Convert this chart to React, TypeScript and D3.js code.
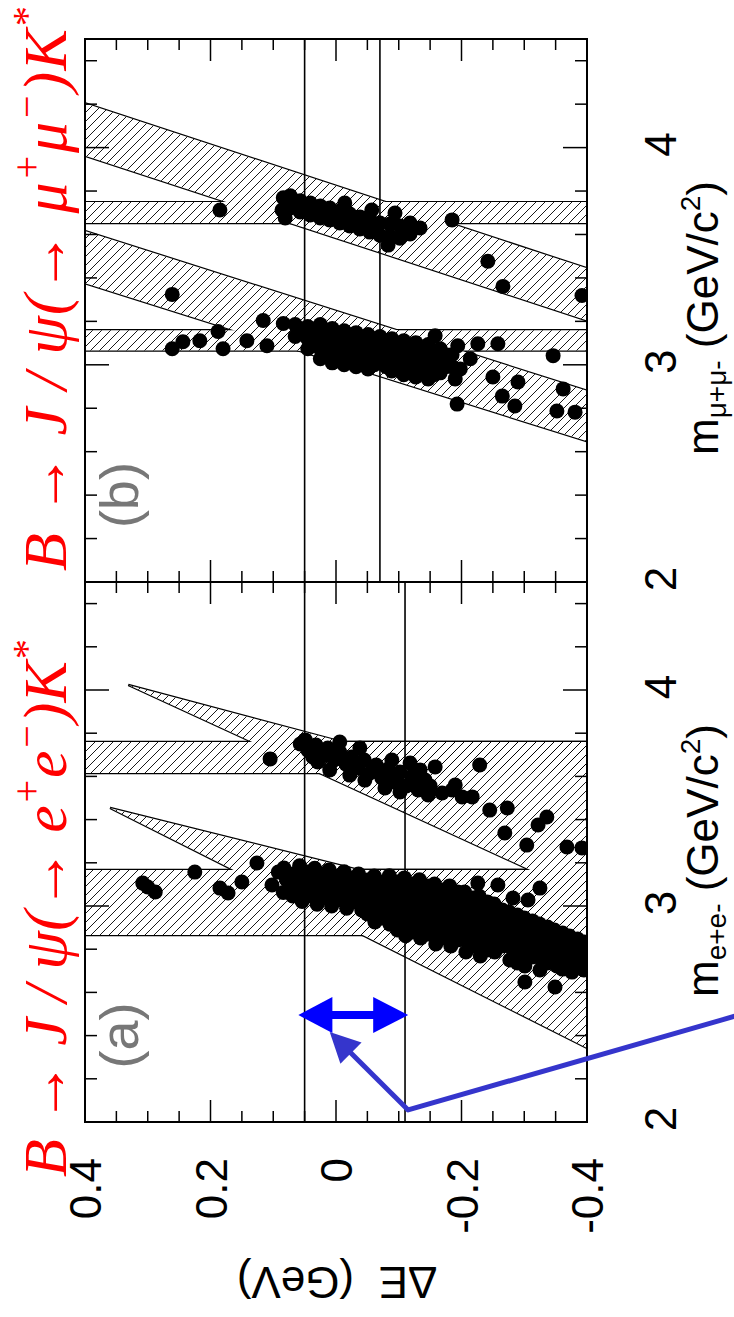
import React from 'react';
import * as d3 from 'd3';

// ---------------- data ----------------
const deDomain = [0.4, -0.4];
const massDomain = [2, 4.5];
const deMajorTicks = [0.4, 0.2, 0, -0.2, -0.4];
const deTickLabels = ['0.4', '0.2', '0', '-0.2', '-0.4'];
const massMajorTicks = [2, 3, 4];
const massTickLabels = ['2', '3', '4'];

// signal-box cut lines in ΔE (GeV)
const eeSignalCuts = [0.05, -0.11];
const mmSignalCuts = [0.05, -0.07];

// veto regions [ΔE, m]
const eeVetoBands = [[2.866, 3.167], [3.616, 3.759]];
const eeVetoWedges = [
  [[0.36, 3.454], [-0.036, 3.167], [-0.4, 3.167], [-0.4, 2.343]],
  [[0.331, 4.023], [-0.011, 3.759], [-0.4, 3.759], [-0.4, 3.046]],
];
const mmVetoBands = [[3.066, 3.159], [3.653, 3.749]];
const mmVetoDiagonals = [
  [[0.4, 3.616], [0.4, 3.375], [-0.4, 2.648], [-0.4, 2.88]],
  [[0.4, 4.204], [0.4, 3.963], [-0.4, 3.204], [-0.4, 3.444]],
];

// events [ΔE, m]
const eeJpsiEvents = [
  [0.308, 3.106], [0.288, 3.065], [0.3, 3.088], [0.225, 3.157], [0.185, 3.083], [0.172, 3.06],
  [0.15, 3.111], [0.126, 3.199], [0.102, 3.097], [0.092, 3.157], [-0.301, 2.648], [-0.349, 2.625],
  [-0.258, 3.097], [-0.226, 3.106], [-0.325, 3.083], [-0.306, 3.028], [-0.282, 3.037],
  [0.083, 3.176], [0.079, 3.122], [0.084, 3.063],
  [0.058, 3.186], [0.055, 3.128], [0.06, 3.074], [0.054, 3.021],
  [0.034, 3.175], [0.031, 3.121], [0.036, 3.066], [0.03, 3.008],
  [0.011, 3.167], [0.008, 3.112], [0.012, 3.055], [0.007, 3.0],
  [-0.013, 3.158], [-0.016, 3.101], [-0.012, 3.047], [-0.017, 2.99],
  [-0.036, 3.148], [-0.04, 3.093], [-0.037, 3.036], [-0.041, 2.982],
  [-0.061, 3.139], [-0.064, 3.083], [-0.06, 3.028], [-0.065, 2.972], [-0.062, 2.926],
  [-0.085, 3.14], [-0.088, 3.084], [-0.084, 3.027], [-0.089, 2.973], [-0.086, 2.916],
  [-0.109, 3.13], [-0.112, 3.075], [-0.108, 3.018], [-0.113, 2.963], [-0.11, 2.906], [-0.111, 2.862],
  [-0.133, 3.121], [-0.136, 3.065], [-0.132, 3.01], [-0.137, 2.954], [-0.134, 2.898], [-0.135, 2.852],
  [-0.157, 3.102], [-0.16, 3.047], [-0.156, 2.991], [-0.161, 2.935], [-0.158, 2.88], [-0.159, 2.824],
  [-0.181, 3.093], [-0.184, 3.037], [-0.18, 2.981], [-0.185, 2.926], [-0.182, 2.87], [-0.183, 2.815],
  [-0.205, 3.065], [-0.208, 3.009], [-0.204, 2.954], [-0.209, 2.898], [-0.206, 2.843], [-0.207, 2.787],
  [-0.228, 3.046], [-0.231, 2.991], [-0.227, 2.935], [-0.232, 2.88], [-0.229, 2.824], [-0.23, 2.769],
  [-0.252, 3.009], [-0.255, 2.954], [-0.251, 2.898], [-0.256, 2.843], [-0.253, 2.787],
  [-0.276, 2.972], [-0.279, 2.917], [-0.275, 2.861], [-0.28, 2.806], [-0.277, 2.75],
  [-0.3, 2.944], [-0.303, 2.889], [-0.299, 2.833], [-0.304, 2.778], [-0.301, 2.722],
  [-0.324, 2.917], [-0.327, 2.861], [-0.323, 2.806], [-0.328, 2.75], [-0.325, 2.704],
  [-0.348, 2.889], [-0.351, 2.833], [-0.347, 2.778], [-0.352, 2.722],
  [-0.372, 2.861], [-0.375, 2.806], [-0.371, 2.75], [-0.376, 2.694],
  [-0.396, 2.833], [-0.398, 2.769], [-0.395, 2.704],
  [0.069, 3.148], [0.069, 3.093], [0.069, 3.046],
  [0.045, 3.157], [0.045, 3.102], [0.045, 3.046],
  [0.022, 3.148], [0.022, 3.093], [0.022, 3.037],
  [-0.002, 3.139], [-0.002, 3.083], [-0.002, 3.028],
  [-0.026, 3.13], [-0.026, 3.074], [-0.026, 3.019],
  [-0.05, 3.12], [-0.05, 3.065], [-0.05, 3.009], [-0.05, 2.963],
  [-0.074, 3.111], [-0.074, 3.056], [-0.074, 3.0], [-0.074, 2.944],
  [-0.098, 3.111], [-0.098, 3.056], [-0.098, 3.0], [-0.098, 2.944], [-0.098, 2.889],
  [-0.122, 3.102], [-0.122, 3.046], [-0.122, 2.991], [-0.122, 2.935], [-0.122, 2.88],
  [-0.146, 3.093], [-0.146, 3.037], [-0.146, 2.981], [-0.146, 2.926], [-0.146, 2.87],
  [-0.17, 3.074], [-0.17, 3.019], [-0.17, 2.963], [-0.17, 2.907], [-0.17, 2.852],
  [-0.194, 3.065], [-0.194, 3.009], [-0.194, 2.954], [-0.194, 2.898], [-0.194, 2.843],
  [-0.218, 3.037], [-0.218, 2.981], [-0.218, 2.926], [-0.218, 2.87], [-0.218, 2.815],
  [-0.241, 3.019], [-0.241, 2.963], [-0.241, 2.907], [-0.241, 2.852], [-0.241, 2.796],
  [-0.265, 2.981], [-0.265, 2.926], [-0.265, 2.87], [-0.265, 2.815],
  [-0.289, 2.958], [-0.289, 2.903], [-0.289, 2.847], [-0.289, 2.792], [-0.289, 2.736],
  [-0.313, 2.931], [-0.313, 2.875], [-0.313, 2.819], [-0.313, 2.764],
  [-0.337, 2.903], [-0.337, 2.847], [-0.337, 2.792], [-0.337, 2.736],
  [-0.361, 2.875], [-0.361, 2.819], [-0.361, 2.764], [-0.361, 2.708],
  [-0.385, 2.847], [-0.385, 2.792], [-0.385, 2.736],
];
const eePsi2sEvents = [
  [0.105, 3.681], [0.057, 3.75], [0.049, 3.769], [0.041, 3.713], [0.032, 3.745], [0.022, 3.694],
  [0.013, 3.731], [0.003, 3.676], [-0.006, 3.713], [-0.016, 3.657], [-0.025, 3.69], [-0.035, 3.639],
  [-0.045, 3.676], [-0.054, 3.616], [-0.064, 3.653], [-0.073, 3.593], [-0.083, 3.634], [-0.092, 3.574],
  [-0.102, 3.62], [-0.112, 3.556], [-0.121, 3.602], [-0.131, 3.537], [-0.118, 3.662], [-0.134, 3.63],
  [-0.142, 3.583], [-0.158, 3.644], [-0.169, 3.523], [-0.185, 3.537], [-0.201, 3.505], [-0.217, 3.505],
  [-0.229, 3.653], [-0.245, 3.444], [-0.273, 3.454], [-0.322, 3.375], [-0.336, 3.412], [-0.269, 3.338],
  [-0.304, 3.282], [-0.368, 3.273], [-0.392, 3.269], [0.01, 3.63], [-0.022, 3.606], [-0.046, 3.583],
  [-0.078, 3.546], [-0.102, 3.528], [-0.038, 3.731], [-0.006, 3.759], [0.029, 3.667], [-0.089, 3.676],
  [-0.147, 3.514], [-0.19, 3.56],
  [0.045, 3.722], [0.018, 3.708], [-0.011, 3.685], [-0.03, 3.667], [-0.059, 3.639], [-0.078, 3.611],
  [-0.097, 3.597], [-0.126, 3.574], [-0.15, 3.556], [0.037, 3.69], [-0.065, 3.625],
];
const mmPsi2sEvents = [
  [0.185, 3.713], [0.084, 3.769], [0.086, 3.713], [0.261, 3.324], [-0.185, 3.667], [-0.242, 3.477],
  [-0.266, 3.361], [-0.392, 3.319],
  [0.073, 3.778], [0.073, 3.722], [0.057, 3.755], [0.057, 3.704], [0.041, 3.745], [0.041, 3.69],
  [0.025, 3.731], [0.025, 3.676], [0.01, 3.722], [0.01, 3.667], [-0.006, 3.708], [-0.006, 3.653],
  [-0.022, 3.694], [-0.022, 3.639], [-0.038, 3.681], [-0.038, 3.625], [-0.054, 3.667], [-0.054, 3.611],
  [-0.07, 3.653], [-0.07, 3.597], [-0.086, 3.648], [-0.086, 3.593], [-0.102, 3.639], [-0.102, 3.583],
  [-0.118, 3.653], [-0.118, 3.602], [-0.134, 3.63], [-0.094, 3.699], [-0.057, 3.713], [-0.014, 3.745],
  [0.081, 3.676], [-0.083, 3.551],
];
const mmJpsiEvents = [
  [0.261, 3.074], [0.244, 3.106], [0.217, 3.111], [0.188, 3.153], [0.18, 3.074], [0.142, 3.111],
  [0.116, 3.204], [0.11, 3.088], [0.084, 3.19], [-0.194, 3.088], [-0.226, 3.097], [-0.258, 3.097],
  [-0.193, 2.819], [-0.25, 2.944], [-0.29, 2.921], [-0.265, 2.856], [-0.285, 2.81], [-0.346, 3.042],
  [-0.362, 2.889], [-0.352, 2.787], [-0.381, 2.782], [-0.158, 3.134],
  [0.065, 3.185], [0.065, 3.13],
  [0.045, 3.176], [0.045, 3.12], [0.045, 3.074],
  [0.025, 3.185], [0.025, 3.13], [0.025, 3.074], [0.025, 3.028],
  [0.006, 3.167], [0.006, 3.111], [0.006, 3.056], [0.006, 3.009],
  [-0.013, 3.157], [-0.013, 3.102], [-0.013, 3.046], [-0.013, 3.0],
  [-0.032, 3.148], [-0.032, 3.093], [-0.032, 3.037], [-0.032, 2.991],
  [-0.051, 3.139], [-0.051, 3.083], [-0.051, 3.028], [-0.051, 2.981],
  [-0.07, 3.13], [-0.07, 3.074], [-0.07, 3.019],
  [-0.089, 3.12], [-0.089, 3.065], [-0.089, 3.009], [-0.089, 2.972],
  [-0.108, 3.111], [-0.108, 3.056], [-0.108, 3.0], [-0.108, 2.954],
  [-0.127, 3.102], [-0.127, 3.046], [-0.127, 2.991], [-0.127, 2.944],
  [-0.147, 3.093], [-0.147, 3.037], [-0.147, 2.981], [-0.147, 2.935],
  [-0.166, 3.074], [-0.166, 3.019], [-0.166, 2.963],
  [-0.185, 3.046], [-0.185, 2.991],
  [-0.198, 2.981], [-0.214, 3.028], [-0.19, 2.935],
  [0.056, 3.157], [0.035, 3.148], [0.035, 3.093],
  [0.016, 3.157], [0.016, 3.102], [0.016, 3.046],
  [-0.003, 3.139], [-0.003, 3.083], [-0.003, 3.028],
  [-0.022, 3.13], [-0.022, 3.074], [-0.022, 3.019],
  [-0.041, 3.12], [-0.041, 3.065], [-0.041, 3.009],
  [-0.061, 3.111], [-0.061, 3.056], [-0.061, 3.0],
  [-0.08, 3.102], [-0.08, 3.046], [-0.08, 2.991],
  [-0.099, 3.093], [-0.099, 3.037], [-0.099, 2.981],
  [-0.118, 3.083], [-0.118, 3.028], [-0.118, 2.972],
  [-0.137, 3.074], [-0.137, 3.019], [-0.137, 2.963],
  [-0.156, 3.056], [-0.156, 3.0], [-0.156, 2.954],
  [-0.175, 3.046], [-0.175, 2.991],
];

// annotation (panel a coordinates, [ΔE, m])
const windowArrow = [[0.06, 2.495], [-0.115, 2.495]];
const pointerArrow = [[-0.115, 2.056], [0.01, 2.417]];
const pointerLine = [[-0.115, 2.056], [-0.66, 2.51]];

// ---------------- layout ----------------
const W = 734;
const H = 1317;
const LEFT = 85;
const RIGHT = 587;
const FONT = "'Liberation Sans', Arial, Helvetica, sans-serif";
const SERIF = "'Liberation Serif', 'Times New Roman', serif";
const DOT_R = 7.5;

const x = d3.scaleLinear().domain(deDomain).range([LEFT, RIGHT]);

type Pt = number[];

function Panel(props: {
  id: string;
  top: number;
  bottom: number;
  regions: Pt[][];
  cuts: number[];
  events: Pt[][];
  label: string;
}) {
  const { id, top, bottom, regions, cuts, events, label } = props;
  const y = d3.scaleLinear().domain(massDomain).range([bottom, top]);
  const line = d3.line<Pt>().x((d) => x(d[0])).y((d) => y(d[1]));
  const paths = regions.map((r) => line(r) + 'Z');
  const deTicks = d3.range(-8, 9).map((i) => i * 0.05);
  const mTicks = d3.range(0, 13).map((i) => 2 + i * 0.2);
  const isMajorDE = (v: number) => Math.abs(v * 5 - Math.round(v * 5)) < 1e-6;
  const isMajorM = (v: number) => Math.abs(v - Math.round(v)) < 1e-6;
  return (
    <g>
      <defs>
        <clipPath id={'clip-' + id}>
          <rect x={LEFT} y={top} width={RIGHT - LEFT} height={bottom - top} />
        </clipPath>
      </defs>
      <g clipPath={`url(#clip-${id})`}>
        {paths.map((p, i) => (
          <path key={'s' + i} d={p} fill="none" stroke="#000" strokeWidth={2.4} />
        ))}
        {paths.map((p, i) => (
          <path key={'w' + i} d={p} fill="#fff" stroke="none" />
        ))}
        {paths.map((p, i) => (
          <path key={'h' + i} d={p} fill="url(#hatch)" stroke="none" />
        ))}
        {cuts.map((c, i) => (
          <line key={'c' + i} x1={x(c)} x2={x(c)} y1={top} y2={bottom} stroke="#000" strokeWidth={1.6} />
        ))}
        {events.flat().map((d, i) => (
          <circle key={'e' + i} cx={x(d[0])} cy={y(d[1])} r={DOT_R} fill="#000" />
        ))}
      </g>
      {deTicks.map((v, i) => {
        const len = isMajorDE(v) ? 22 : 11;
        return (
          <g key={'dt' + i} stroke="#000" strokeWidth={1.5}>
            <line x1={x(v)} x2={x(v)} y1={bottom} y2={bottom - len} />
            <line x1={x(v)} x2={x(v)} y1={top} y2={top + len} />
          </g>
        );
      })}
      {mTicks.map((v, i) => {
        const len = isMajorM(v) ? 24 : 12;
        return (
          <g key={'mt' + i} stroke="#000" strokeWidth={1.5}>
            <line x1={LEFT} x2={LEFT + len} y1={y(v)} y2={y(v)} />
            <line x1={RIGHT} x2={RIGHT - len} y1={y(v)} y2={y(v)} />
          </g>
        );
      })}
      <rect x={LEFT} y={top} width={RIGHT - LEFT} height={bottom - top} fill="none" stroke="#000" strokeWidth={2} />
      {massMajorTicks.map((v, i) => (
        <text
          key={'ml' + i}
          transform={`translate(676,${y(v) - 3}) rotate(-90)`}
          textAnchor="middle"
          fontFamily={FONT}
          fontSize={44}
          fill="#000"
        >
          {massTickLabels[i]}
        </text>
      ))}
      <text
        transform={`translate(138,${y(2.4)}) rotate(-90)`}
        textAnchor="middle"
        fontFamily={FONT}
        fontSize={54}
        fill="#777"
      >
        {label}
      </text>
    </g>
  );
}

function arrowHead(tip: number[], tail: number[], len: number, half: number) {
  const dx = tip[0] - tail[0];
  const dy = tip[1] - tail[1];
  const L = Math.hypot(dx, dy);
  const ux = dx / L;
  const uy = dy / L;
  const bx = tip[0] - ux * len;
  const by = tip[1] - uy * len;
  return `M${tip[0]},${tip[1]} L${bx - uy * half},${by + ux * half} L${bx + uy * half},${by - ux * half} Z`;
}

export default function App() {
  const yA = d3.scaleLinear().domain(massDomain).range([1122, 582]);
  const toA = (d: number[]) => [x(d[0]), yA(d[1])];

  const eeRegions: Pt[][] = [
    ...eeVetoBands.map((b) => [[0.4, b[0]], [0.4, b[1]], [-0.4, b[1]], [-0.4, b[0]]]),
    ...eeVetoWedges,
  ];
  const mmRegions: Pt[][] = [
    ...mmVetoBands.map((b) => [[0.4, b[0]], [0.4, b[1]], [-0.4, b[1]], [-0.4, b[0]]]),
    ...mmVetoDiagonals,
  ];

  const wa0 = toA(windowArrow[0]);
  const wa1 = toA(windowArrow[1]);
  const pa0 = toA(pointerArrow[0]);
  const pa1 = toA(pointerArrow[1]);
  const pl1 = toA(pointerLine[1]);
  const paDx = pa1[0] - pa0[0];
  const paDy = pa1[1] - pa0[1];
  const paL = Math.hypot(paDx, paDy);
  const paBase = [pa1[0] - (paDx / paL) * 26, pa1[1] - (paDy / paL) * 26];

  return (
    <svg
      width={W}
      height={H}
      viewBox={`0 0 ${W} ${H}`}
      style={{ position: 'absolute', left: 0, top: 0, background: '#fff' }}
    >
      <defs>
        <pattern id="hatch" patternUnits="userSpaceOnUse" width={9} height={9}>
          <path d="M-1,1 L1,-1 M0,9 L9,0 M8,10 L10,8" stroke="#000" strokeWidth={0.9} />
        </pattern>
      </defs>
      <rect x={0} y={0} width={W} height={H} fill="#fff" />

      <Panel id="a" top={582} bottom={1122} regions={eeRegions} cuts={eeSignalCuts}
        events={[eeJpsiEvents, eePsi2sEvents]} label="(a)" />
      <Panel id="b" top={39} bottom={582} regions={mmRegions} cuts={mmSignalCuts}
        events={[mmJpsiEvents, mmPsi2sEvents]} label="(b)" />

      {/* ΔE tick labels */}
      {deMajorTicks.map((v, i) => (
        <text key={'dl' + i} transform={`translate(${x(v) + 16},1158) rotate(-90)`}
          textAnchor="end" fontFamily={FONT} fontSize={44} fill="#000">
          {deTickLabels[i]}
        </text>
      ))}
      {/* ΔE axis title (upside down) */}
      <text transform="translate(337,1267) rotate(180)" textAnchor="middle" fontFamily={FONT}
        fontSize={44} fill="#000" style={{ whiteSpace: 'pre' }}>
        {'ΔE  (GeV)'}
      </text>

      {/* mass axis titles */}
      <text transform="translate(718,997) rotate(-90)" fontFamily={FONT} fontSize={44} fill="#000"
        style={{ whiteSpace: 'pre' }}>
        m<tspan dy={8} fontSize={28}>e+e-</tspan>
        <tspan dy={-8}>{' (GeV/c'}</tspan>
        <tspan dy={-18} fontSize={28}>2</tspan>
        <tspan dy={18}>)</tspan>
      </text>
      <text transform="translate(718,455) rotate(-90)" fontFamily={FONT} fontSize={44} fill="#000"
        style={{ whiteSpace: 'pre' }}>
        m<tspan dy={8} fontSize={28}>μ+μ-</tspan>
        <tspan dy={-8}>{' (GeV/c'}</tspan>
        <tspan dy={-18} fontSize={28}>2</tspan>
        <tspan dy={18}>)</tspan>
      </text>

      {/* titles */}
      <text transform="translate(66,1177) rotate(-90)" fontFamily={SERIF} fontStyle="italic"
        fontSize={62} fill="#FF0000" textLength={536} lengthAdjust="spacing" style={{ whiteSpace: 'pre' }}>
        {'B → J / ψ(→ e'}
        <tspan dy={-26} fontSize={40}>+</tspan>
        <tspan dy={26}>e</tspan>
        <tspan dy={-26} fontSize={40}>−</tspan>
        <tspan dy={26}>)K</tspan>
        <tspan dy={-26} fontSize={40}>*</tspan>
      </text>
      <text transform="translate(66,571) rotate(-90)" fontFamily={SERIF} fontStyle="italic"
        fontSize={62} fill="#FF0000" textLength={563} lengthAdjust="spacing" style={{ whiteSpace: 'pre' }}>
        {'B → J / ψ(→ μ'}
        <tspan dy={-26} fontSize={40}>+</tspan>
        <tspan dy={26}>μ</tspan>
        <tspan dy={-26} fontSize={40}>−</tspan>
        <tspan dy={26}>)K</tspan>
        <tspan dy={-26} fontSize={40}>*</tspan>
      </text>

      {/* annotations */}
      <g fill="#0000FF">
        <line x1={wa0[0] + 20} x2={wa1[0] - 20} y1={wa0[1]} y2={wa1[1]} stroke="#0000FF" strokeWidth={8} />
        <path d={arrowHead(wa0, wa1, 34, 18)} />
        <path d={arrowHead(wa1, wa0, 35, 18)} />
      </g>
      <g>
        <line x1={pa0[0]} y1={pa0[1]} x2={paBase[0]} y2={paBase[1]} stroke="#3535CC" strokeWidth={5} />
        <line x1={pa0[0]} y1={pa0[1]} x2={pl1[0]} y2={pl1[1]} stroke="#3535CC" strokeWidth={5} strokeLinecap="round" />
        <path d={arrowHead(pa1, pa0, 30, 15)} fill="#3535CC" />
      </g>
    </svg>
  );
}
